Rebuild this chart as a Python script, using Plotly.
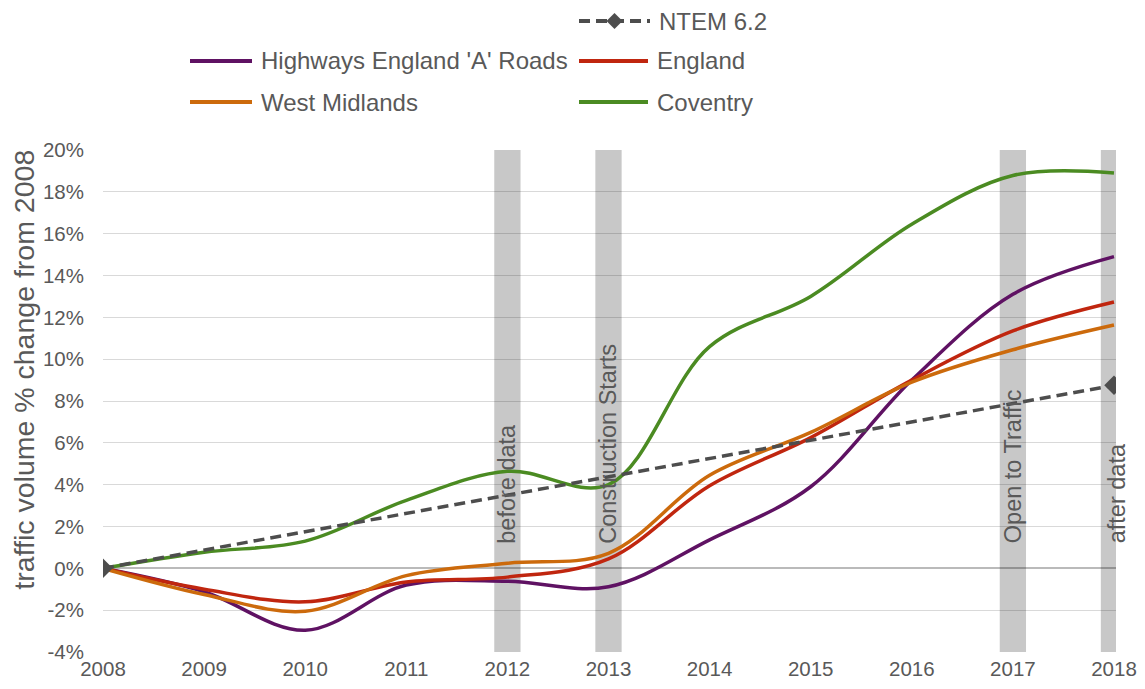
import plotly.graph_objects as go

# ---------------- data ----------------
years = [2008, 2009, 2010, 2011, 2012, 2013, 2014, 2015, 2016, 2017, 2018]
highways_a_roads = [0.0, -1.12, -2.96, -0.80, -0.62, -0.88, 1.36, 3.90, 9.00, 13.10, 14.90]
england = [0.0, -1.00, -1.60, -0.65, -0.42, 0.45, 3.95, 6.25, 9.00, 11.35, 12.73]
west_midlands = [0.0, -1.25, -2.05, -0.35, 0.24, 0.72, 4.45, 6.50, 8.90, 10.45, 11.63]
coventry = [0.0, 0.77, 1.30, 3.25, 4.64, 4.00, 10.60, 13.00, 16.45, 18.78, 18.90]
ntem_years = [2008, 2018]
ntem = [0.0, 8.75]

event_years = [2012, 2013, 2017, 2018]
event_labels = ["before data", "Construction Starts", "Open to Traffic", "after data"]

y_ticks = [-4, -2, 0, 2, 4, 6, 8, 10, 12, 14, 16, 18, 20]
y_ticktext = [f"{v}%" for v in y_ticks]
y_title = "traffic volume % change from 2008"

series_names = ["Highways England 'A' Roads", "England", "West Midlands", "Coventry"]
ntem_name = "NTEM 6.2"

# ---------------- styling ----------------
OFF = 8  # browser body margin: figure is drawn 8px right/down in the page
PAGE_W, PAGE_H = 1145, 689
W, H = PAGE_W - OFF, PAGE_H - OFF
# plot area in page pixels: x 103..1116, y 150..652
ML, MR, MT, MB = 103 - OFF, PAGE_W - 1116, 150 - OFF, PAGE_H - 652
FONT = "Liberation Sans, Arial, sans-serif"
TXT = "#595959"
colors = {
    "Highways England 'A' Roads": "#5F1263",
    "England": "#C0260F",
    "West Midlands": "#CC6A0C",
    "Coventry": "#4B8B22",
}
NTEM_COLOR = "#4D4D4D"
BAR_COLOR = "#C8C8C8"

PW = W - ML - MR
PH = H - MT - MB


def px_x(px):
    """page pixel x -> paper coordinate"""
    return (px - OFF - ML) / PW


def px_y(py):
    """page pixel y -> paper coordinate"""
    return (H - MB - (py - OFF)) / PH


fig = go.Figure()

series_values = [highways_a_roads, england, west_midlands, coventry]
for name, vals in zip(series_names, series_values):
    fig.add_trace(go.Scatter(
        x=years, y=vals, name=name, mode="lines",
        line=dict(color=colors[name], width=3.5, shape="spline", smoothing=1.0),
        showlegend=False,
    ))

fig.add_trace(go.Scatter(
    x=ntem_years, y=ntem, name=ntem_name, mode="lines+markers",
    line=dict(color=NTEM_COLOR, width=3.5, dash="11px,6px"),
    marker=dict(symbol="diamond", size=15, color=NTEM_COLOR),
    showlegend=False,
))

shapes = []
annotations = []

# event bars + rotated labels
for yr, lab in zip(event_years, event_labels):
    shapes.append(dict(
        type="rect", xref="x", yref="y domain", x0=yr - 0.13, x1=yr + 0.13, y0=0, y1=1,
        fillcolor=BAR_COLOR, line=dict(width=0), layer="below",
    ))
    annotations.append(dict(
        x=yr, y=1.1, xref="x", yref="y", text=lab, showarrow=False,
        textangle=-90, xanchor="center", yanchor="bottom",
        xshift=3 if yr == event_years[-1] else 0,
        font=dict(family=FONT, size=23.5, color=TXT),
    ))

# y axis title
annotations.append(dict(
    x=px_x(24), y=9.5, xref="paper", yref="y", text=y_title, showarrow=False,
    textangle=-90, xanchor="center", yanchor="middle",
    font=dict(family=FONT, size=28.5, color=TXT),
))

# manual legend (page pixel positions)
legend_items = [
    (ntem_name, NTEM_COLOR, 579, 650, 21, True),
    (series_names[0], colors[series_names[0]], 190, 252, 61, False),
    (series_names[1], colors[series_names[1]], 579, 648, 61, False),
    (series_names[2], colors[series_names[2]], 190, 252, 102, False),
    (series_names[3], colors[series_names[3]], 579, 648, 102, False),
]
for name, col, x0, x1, yy, is_ntem in legend_items:
    shapes.append(dict(
        type="line", xref="paper", yref="paper",
        x0=px_x(x0), x1=px_x(x1), y0=px_y(yy), y1=px_y(yy),
        line=dict(color=col, width=4, dash="11px,6px" if is_ntem else "solid"),
    ))
    if is_ntem:
        cx, cy, r = (x0 + x1) / 2, yy, 8
        path = (f"M {px_x(cx - r)},{px_y(cy)} L {px_x(cx)},{px_y(cy - r)} "
                f"L {px_x(cx + r)},{px_y(cy)} L {px_x(cx)},{px_y(cy + r)} Z")
        shapes.append(dict(type="path", xref="paper", yref="paper", path=path,
                           fillcolor=col, line=dict(width=0)))
    annotations.append(dict(
        x=px_x(x1 + 7), y=px_y(yy), xref="paper", yref="paper", text=name,
        showarrow=False, xanchor="left", yanchor="middle",
        font=dict(family=FONT, size=24, color=TXT),
    ))

fig.update_layout(
    width=W, height=H,
    margin=dict(l=ML, r=MR, t=MT, b=MB, autoexpand=False),
    paper_bgcolor="white", plot_bgcolor="white",
    font=dict(family=FONT, color=TXT),
    showlegend=False,
    shapes=shapes, annotations=annotations,
    xaxis=dict(
        range=[2008, 2018.02], tickmode="array", tickvals=years,
        ticktext=[str(y) for y in years],
        showgrid=False, zeroline=False, showline=False, ticks="",
        tickfont=dict(family=FONT, size=20.5, color=TXT),
        ticklabelstandoff=2, fixedrange=True,
    ),
    yaxis=dict(
        range=[-4, 20], tickmode="array", tickvals=y_ticks, ticktext=y_ticktext,
        showgrid=True, gridcolor="rgba(0,0,0,0.15)", gridwidth=1.3,
        zeroline=True, zerolinecolor="rgba(0,0,0,0.27)", zerolinewidth=1.6,
        showline=False, ticks="",
        tickfont=dict(family=FONT, size=20.5, color=TXT),
        ticklabelstandoff=18, fixedrange=True,
    ),
)

fig.write_html("out.html")
